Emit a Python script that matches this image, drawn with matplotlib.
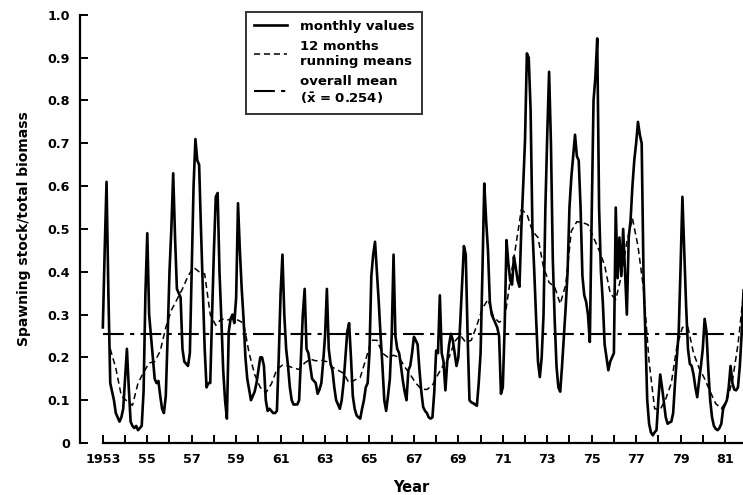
import numpy as np
import matplotlib
matplotlib.use('Agg')
import matplotlib.pyplot as plt

# monthly ratio spawning stock / total biomass, Jan 1953 onwards
y1953 = [0.27, 0.45, 0.61, 0.35, 0.14, 0.12, 0.10, 0.07, 0.06, 0.05, 0.06, 0.08]
y1954 = [0.15, 0.22, 0.13, 0.05, 0.04, 0.035, 0.04, 0.03, 0.035, 0.04, 0.12, 0.35]
y1955 = [0.49, 0.30, 0.25, 0.20, 0.15, 0.14, 0.145, 0.11, 0.08, 0.07, 0.11, 0.25]
y1956 = [0.40, 0.50, 0.63, 0.48, 0.36, 0.35, 0.34, 0.22, 0.19, 0.185, 0.18, 0.21]
y1957 = [0.40, 0.60, 0.71, 0.66, 0.65, 0.50, 0.36, 0.22, 0.13, 0.14, 0.14, 0.30]
y1958 = [0.45, 0.575, 0.584, 0.40, 0.29, 0.17, 0.10, 0.057, 0.26, 0.29, 0.30, 0.28]
y1959 = [0.34, 0.56, 0.45, 0.36, 0.29, 0.20, 0.15, 0.125, 0.10, 0.11, 0.12, 0.14]
y1960 = [0.17, 0.20, 0.20, 0.18, 0.10, 0.075, 0.08, 0.075, 0.07, 0.07, 0.075, 0.20]
y1961 = [0.35, 0.44, 0.30, 0.22, 0.18, 0.13, 0.10, 0.09, 0.09, 0.09, 0.10, 0.20]
y1962 = [0.30, 0.36, 0.22, 0.21, 0.18, 0.15, 0.145, 0.14, 0.115, 0.125, 0.14, 0.19]
y1963 = [0.25, 0.36, 0.22, 0.185, 0.17, 0.13, 0.10, 0.09, 0.08, 0.10, 0.14, 0.20]
y1964 = [0.26, 0.28, 0.20, 0.11, 0.08, 0.065, 0.06, 0.057, 0.08, 0.10, 0.13, 0.14]
y1965 = [0.21, 0.39, 0.44, 0.47, 0.40, 0.33, 0.25, 0.18, 0.10, 0.075, 0.11, 0.15]
y1966 = [0.25, 0.44, 0.25, 0.22, 0.21, 0.18, 0.146, 0.12, 0.10, 0.17, 0.18, 0.21]
y1967 = [0.248, 0.24, 0.23, 0.17, 0.12, 0.084, 0.075, 0.07, 0.06, 0.057, 0.06, 0.12]
y1968 = [0.216, 0.21, 0.345, 0.21, 0.19, 0.123, 0.19, 0.23, 0.255, 0.24, 0.21, 0.18]
y1969 = [0.20, 0.28, 0.37, 0.46, 0.44, 0.25, 0.10, 0.095, 0.093, 0.09, 0.087, 0.14]
y1970 = [0.21, 0.40, 0.606, 0.52, 0.45, 0.33, 0.30, 0.29, 0.28, 0.27, 0.25, 0.115]
y1971 = [0.13, 0.27, 0.474, 0.42, 0.38, 0.37, 0.435, 0.41, 0.38, 0.365, 0.50, 0.60]
y1972 = [0.707, 0.91, 0.90, 0.78, 0.50, 0.40, 0.29, 0.19, 0.154, 0.20, 0.30, 0.55]
y1973 = [0.72, 0.867, 0.70, 0.43, 0.29, 0.18, 0.13, 0.12, 0.18, 0.25, 0.32, 0.40]
y1974 = [0.55, 0.62, 0.67, 0.72, 0.67, 0.66, 0.55, 0.39, 0.345, 0.33, 0.30, 0.236]
y1975 = [0.53, 0.80, 0.855, 0.945, 0.55, 0.40, 0.33, 0.23, 0.20, 0.17, 0.19, 0.20]
y1976 = [0.21, 0.55, 0.385, 0.48, 0.39, 0.50, 0.40, 0.30, 0.48, 0.52, 0.60, 0.66]
y1977 = [0.70, 0.75, 0.72, 0.70, 0.39, 0.255, 0.10, 0.045, 0.025, 0.018, 0.025, 0.03]
y1978 = [0.10, 0.16, 0.13, 0.096, 0.06, 0.045, 0.048, 0.05, 0.07, 0.14, 0.20, 0.26]
y1979 = [0.41, 0.575, 0.45, 0.32, 0.22, 0.185, 0.18, 0.16, 0.13, 0.107, 0.146, 0.18]
y1980 = [0.22, 0.29, 0.26, 0.17, 0.10, 0.06, 0.04, 0.033, 0.03, 0.035, 0.045, 0.08]
y1981 = [0.09, 0.10, 0.13, 0.18, 0.14, 0.125, 0.123, 0.13, 0.18, 0.255, 0.356]

# 12 months running means, read every third month starting May 1953
running_means = [
    0.22, 0.175, 0.11, 0.098, 0.088, 0.14, 0.165, 0.187, 0.19, 0.215,
    0.27, 0.31, 0.335, 0.36, 0.39, 0.41, 0.40, 0.395, 0.30, 0.275,
    0.29, 0.287, 0.29, 0.287, 0.28, 0.21, 0.16, 0.13, 0.117, 0.138,
    0.172, 0.182, 0.18, 0.175, 0.172, 0.187, 0.196, 0.192, 0.193, 0.19,
    0.177, 0.17, 0.163, 0.14, 0.147, 0.153, 0.195, 0.24, 0.24, 0.21,
    0.20, 0.205, 0.20, 0.178, 0.16, 0.14, 0.126, 0.125, 0.135, 0.16,
    0.183, 0.20, 0.237, 0.252, 0.235, 0.24, 0.275, 0.315, 0.335, 0.295,
    0.282, 0.29, 0.38, 0.46, 0.545, 0.535, 0.495, 0.48, 0.41, 0.375,
    0.365, 0.325, 0.37, 0.495, 0.517, 0.515, 0.51, 0.48, 0.45, 0.415,
    0.35, 0.335, 0.39, 0.47, 0.525, 0.46, 0.36, 0.19, 0.08, 0.078,
    0.103, 0.14, 0.225, 0.27, 0.27, 0.21, 0.175, 0.15, 0.12, 0.092,
    0.08, 0.10, 0.145, 0.23, 0.35,
]

overall_mean = 0.254
start_year = 1953

monthly = np.array(y1953 + y1954 + y1955 + y1956 + y1957 + y1958 + y1959 + y1960
                   + y1961 + y1962 + y1963 + y1964 + y1965 + y1966 + y1967 + y1968
                   + y1969 + y1970 + y1971 + y1972 + y1973 + y1974 + y1975 + y1976
                   + y1977 + y1978 + y1979 + y1980 + y1981)
dates = start_year + np.arange(len(monthly)) / 12
rm_months = np.arange(4, 4 + 3 * len(running_means), 3)
rm_dates = start_year + rm_months / 12

plt.rcParams['font.family'] = 'DejaVu Sans'
plt.rcParams['font.weight'] = 'bold'
plt.rcParams['font.size'] = 9.2

fig = plt.figure(figsize=(7.43, 4.95), dpi=100)
ax = fig.add_axes([0.1076, 0.105, 0.8924, 0.865])

ax.plot(dates, monthly, color='black', lw=1.9, label='monthly values', zorder=2)
ax.plot(rm_dates, running_means, color='black', lw=1.1, dashes=(4, 2.5),
        label='12 months\nrunning means', zorder=3)
ax.hlines(overall_mean, dates[0], dates[-1], color='black', lw=1.5,
          linestyles=(0, (10, 3, 2, 3)),
          label='overall mean\n($\\bar{\\mathsf{x}}$ = 0.254)', zorder=1)

ax.set_xlim(1951.97, 1981.81)
ax.set_ylim(0, 1.0)

years = np.arange(1953, 1982)
ax.set_xticks(years)
ax.set_xticklabels(['1953' if y == 1953 else ('%02d' % (y % 100) if y % 2 == 1 else '')
                    for y in years])
yt = np.round(np.arange(0, 1.01, 0.1), 1)
ax.set_yticks(yt)
ax.set_yticklabels(['0'] + ['%.1f' % v for v in yt[1:]])

ax.tick_params(direction='in', length=6, width=1.4, labelsize=9.2)
ax.tick_params(axis='x', pad=7)
ax.tick_params(axis='y', pad=7)
for s in ['top', 'right']:
    ax.spines[s].set_visible(False)
for s in ['left', 'bottom']:
    ax.spines[s].set_linewidth(1.6)
ax.spines['bottom'].set_bounds(years[0], 1981.81)

ax.set_xlabel('Year', fontsize=10.5, fontweight='bold', labelpad=10)
ax.set_ylabel('Spawning stock/total biomass', fontsize=10, fontweight='bold', labelpad=12)

leg = ax.legend(loc='upper left', bbox_to_anchor=(0.331, 0.976),
                bbox_transform=fig.transFigure, frameon=True, fancybox=False,
                handlelength=2.5, handletextpad=1.0, labelspacing=0.55,
                borderpad=0.6, borderaxespad=0, fontsize=9.5)
leg.get_frame().set_edgecolor('black')
leg.get_frame().set_linewidth(1.4)

fig.savefig('out.png', dpi=100)
